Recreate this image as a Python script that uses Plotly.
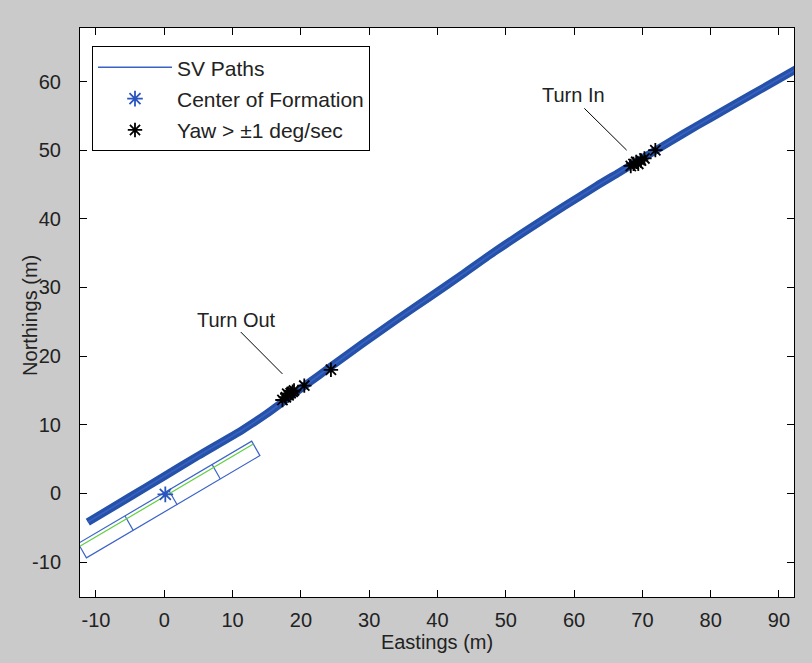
import plotly.graph_objects as go

# ---------------- data ----------------
sv_east = [-11.2, -5.0, 0.0, 5.0, 11.5, 15.0, 18.0, 21.0, 24.3, 29.0, 34.0, 39.0,
           43.8, 48.5, 53.5, 58.5, 63.3, 66.5, 69.0, 72.0, 76.0, 80.0, 86.0, 92.5]
sv_north = [-4.2, -0.5, 2.5, 5.5, 9.3, 11.6, 13.8, 16.0, 18.4, 21.8, 25.3, 28.7,
            32.0, 35.3, 38.6, 41.8, 44.8, 46.7, 48.2, 50.0, 52.4, 54.7, 58.1, 61.8]

center_east = [0.15]
center_north = [-0.15]

yaw_east = [17.3, 17.8, 18.2, 18.5, 18.8, 19.0, 18.0, 20.5, 24.4,
            68.3, 68.7, 69.1, 69.4, 69.8, 70.3, 71.9]
yaw_north = [13.6, 14.0, 14.3, 14.6, 14.8, 15.0, 14.5, 15.7, 18.0,
             47.7, 48.0, 48.3, 48.0, 48.5, 48.8, 50.0]

# formation outline (corners) and its cell dividers
box_east = [-12.6, 12.8, 14.0, -11.4, -12.6]
box_north = [-7.3, 7.6, 5.5, -9.4, -7.3]
divider_top_east = [-5.75, 0.7, 7.0]
divider_top_north = [-3.3, 0.4, 4.2]
divider_bot_east = [-4.55, 1.9, 8.2]
divider_bot_north = [-5.4, -1.7, 2.1]
heading_east = [-12.36, 13.04]
heading_north = [-7.72, 7.18]

# annotations: text, text position, pointer line start / end
ann_text = ["Turn Out", "Turn In"]
ann_east = [10.6, 59.9]
ann_north = [25.2, 58.1]
ptr_e0 = [11.2, 61.5]
ptr_n0 = [23.5, 56.1]
ptr_e1 = [17.3, 67.7]
ptr_n1 = [17.4, 50.0]

x_ticks = [-10, 0, 10, 20, 30, 40, 50, 60, 70, 80, 90]
x_tick_text = ["-10", "0", "10", "20", "30", "40", "50", "60", "70", "80", "90"]
y_ticks = [-10, 0, 10, 20, 30, 40, 50, 60]
y_tick_text = ["-10", "0", "10", "20", "30", "40", "50", "60"]
x_range = [-12.34, 92.2]
y_range = [-15.1, 67.8]

# ---------------- figure ----------------
FONT = "Liberation Sans, Arial, sans-serif"
TXT = "#222222"
BAND = "#2552a8"
OUTLINE = "#3b63c8"
fig = go.Figure()

# thick band of SV paths
fig.add_trace(go.Scatter(x=sv_east, y=sv_north, mode="lines",
                         line=dict(color=BAND, width=8, shape="spline", smoothing=0.6),
                         legendgroup="sv", showlegend=False, hoverinfo="skip"))
# legend entry for the paths (thin line drawn on the band)
fig.add_trace(go.Scatter(x=sv_east, y=sv_north, mode="lines", name="SV Paths",
                         line=dict(color="#3a62c6", width=1.5, shape="spline", smoothing=0.6),
                         legendgroup="sv"))

# formation outline
fig.add_trace(go.Scatter(x=box_east, y=box_north, mode="lines",
                         line=dict(color=OUTLINE, width=1.2),
                         showlegend=False, hoverinfo="skip"))
for i in range(len(divider_top_east)):
    fig.add_trace(go.Scatter(x=[divider_top_east[i], divider_bot_east[i]],
                             y=[divider_top_north[i], divider_bot_north[i]],
                             mode="lines", line=dict(color=OUTLINE, width=1.2),
                             showlegend=False, hoverinfo="skip"))
fig.add_trace(go.Scatter(x=heading_east, y=heading_north, mode="lines",
                         line=dict(color="#5fcf3f", width=1.2),
                         showlegend=False, hoverinfo="skip"))

fig.add_trace(go.Scatter(x=center_east, y=center_north, mode="markers",
                         name="Center of Formation", legendgroup="cf",
                         marker=dict(symbol="asterisk-open", size=13, color="#2a55c0",
                                     line=dict(color="#2a55c0", width=1.8))))
fig.add_trace(go.Scatter(x=yaw_east, y=yaw_north, mode="markers",
                         name="Yaw > \u00b11 deg/sec", legendgroup="yaw",
                         marker=dict(symbol="asterisk-open", size=12, color="black",
                                     line=dict(color="black", width=1.8))))

for i in range(len(ann_text)):
    fig.add_shape(type="line", xref="x", yref="y",
                  x0=ptr_e0[i], y0=ptr_n0[i], x1=ptr_e1[i], y1=ptr_n1[i],
                  line=dict(color="black", width=1))
    fig.add_annotation(x=ann_east[i], y=ann_north[i], text=ann_text[i],
                       showarrow=False, xref="x", yref="y",
                       font=dict(family=FONT, size=20, color=TXT))

# y-axis title placed like the original
fig.add_annotation(x=-0.07, y=0.494, xref="paper", yref="paper",
                   xanchor="center", yanchor="middle",
                   text="Northings (m)", textangle=-90, showarrow=False,
                   font=dict(family=FONT, size=20, color=TXT))

axis_common = dict(showgrid=False, zeroline=False, showline=True, linecolor="black",
                   linewidth=1, mirror="ticks", ticks="inside", ticklen=7,
                   tickcolor="black", tickfont=dict(family=FONT, size=20, color=TXT))

fig.update_xaxes(range=x_range, tickvals=x_ticks, ticktext=x_tick_text,
                 ticklabelstandoff=5,
                 title=dict(text="Eastings (m)", standoff=4,
                            font=dict(family=FONT, size=20, color=TXT)),
                 **axis_common)
fig.update_yaxes(range=y_range, tickvals=y_ticks, ticktext=y_tick_text,
                 ticklabelstandoff=14, **axis_common)

fig.update_layout(
    width=812, height=663,
    margin=dict(l=80, r=18, t=28, b=66, autoexpand=False),
    paper_bgcolor="#cacaca", plot_bgcolor="white",
    showlegend=True,
    legend=dict(x=0.0168, y=0.968, xanchor="left", yanchor="top",
                bgcolor="white", bordercolor="black", borderwidth=1,
                traceorder="grouped", tracegroupgap=1, itemwidth=74,
                font=dict(family=FONT, size=21, color=TXT)),
)

fig.write_html("out.html")
